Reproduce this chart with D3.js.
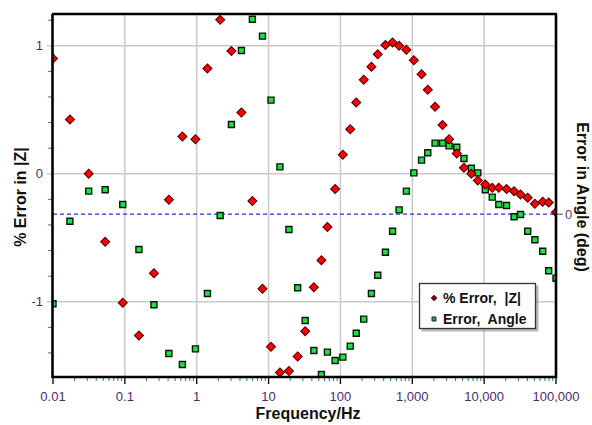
<!DOCTYPE html>
<html><head><meta charset="utf-8">
<script src="https://cdn.jsdelivr.net/npm/d3@7"></script>
<style>body{margin:0;background:#fff}svg{display:block}text{white-space:pre}</style>
</head><body>
<svg id="c" width="592" height="425"></svg>
<script>
const freq = [0.01,0.0172,0.0314,0.0532,0.0935,0.157,0.254,0.41,0.632,0.96,1.41,2.12,3.04,4.19,5.95,8.23,10.8,14.4,19.2,25.4,32.3,42.7,54.4,65.9,84.4,108,137,166,211,270,331,423,532,655,828,1052,1346,1642,2075,2637,3251,4159,5236,6637,8169,10390,12970,16000,20500,26060,32080,40380,50850,65310,79100,100000];
const zErr = [0.90,0.424,0.0,-0.531,-1.008,-1.263,-0.777,-0.203,0.291,0.270,0.823,1.203,0.958,0.479,-0.213,-0.898,-1.352,-1.552,-1.542,-1.427,-1.230,-0.886,-0.675,-0.417,-0.120,0.148,0.348,0.557,0.734,0.836,0.934,1.005,1.026,1.0,0.969,0.887,0.778,0.656,0.523,0.380,0.270,0.159,0.047,0.0,-0.052,-0.084,-0.109,-0.109,-0.120,-0.136,-0.162,-0.188,-0.234,-0.219,-0.224,-0.300];
const angleErr = [-0.700,-0.055,0.180,0.191,0.076,-0.276,-0.708,-1.088,-1.174,-1.052,-0.620,-0.010,0.701,1.279,1.523,1.391,0.891,0.370,-0.120,-0.575,-0.830,-1.065,-1.252,-1.078,-1.143,-1.117,-1.031,-0.930,-0.820,-0.620,-0.477,-0.297,-0.133,0.034,0.180,0.323,0.422,0.480,0.555,0.555,0.534,0.523,0.435,0.359,0.323,0.191,0.133,0.076,0.068,-0.020,-0.002,-0.133,-0.200,-0.289,-0.442,-0.500];
const xTicks = [0.01,0.1,1,10,100,1000,10000,100000];
const xTickLabels = ["0.01","0.1","1","10","100","1,000","10,000","100,000"];
const yTicks = [-1,0,1];
const yTickLabels = ["-1","0","1"];
const yRTicks = [0];
const yRTickLabels = ["0"];
const seriesNames = ["% Error,  |Z|","Error,  Angle"];

const L=53, R=556, T=14, B=377;
const svg = d3.select("#c");
const x = d3.scaleLog().domain([0.01,1e5]).range([L,R]);
const yL = d3.scaleLinear().domain([-1.588,1.248]).range([B,T]);
const yR = d3.scaleLinear().domain([-1.272,1.564]).range([B,T]);
const tickCol = "#4a2c72";

// grid
const grid = svg.append("g");
grid.selectAll("line.v").data(xTicks.slice(1,-1)).join("line")
  .attr("x1",d=>x(d)).attr("x2",d=>x(d)).attr("y1",T).attr("y2",B)
  .attr("stroke","#cacaca").attr("stroke-width",1.5);
grid.selectAll("line.h").data(yTicks).join("line")
  .attr("x1",L-6).attr("x2",R).attr("y1",d=>yL(d)).attr("y2",d=>yL(d))
  .attr("stroke","#cacaca").attr("stroke-width",1.5);

// dashed zero line of right axis
svg.append("line").attr("x1",L).attr("x2",R).attr("y1",yR(0)).attr("y2",yR(0))
  .attr("stroke","#2a2af0").attr("stroke-width",1.3).attr("stroke-dasharray","4,3");

// minor ticks x
const minor=[];
for(let e=-2;e<5;e++) for(let m=2;m<10;m++) minor.push(m*Math.pow(10,e));
svg.append("g").selectAll("line").data(minor).join("line")
  .attr("x1",d=>x(d)).attr("x2",d=>x(d)).attr("y1",B).attr("y2",B+4)
  .attr("stroke","#2a7d80").attr("stroke-width",1);
// major ticks x
svg.append("g").selectAll("line").data(xTicks).join("line")
  .attr("x1",d=>x(d)).attr("x2",d=>x(d)).attr("y1",B).attr("y2",B+7)
  .attr("stroke","#000").attr("stroke-width",1.3);
svg.append("g").selectAll("text").data(xTicks).join("text")
  .attr("x",d=>x(d)).attr("y",401).attr("text-anchor","middle")
  .attr("font-family","Liberation Sans, Arial, sans-serif").attr("font-size",13)
  .attr("fill",tickCol).text((d,i)=>xTickLabels[i]);

// minor ticks y left
const yMinor = d3.range(-1.4,1.3,0.2).map(v=>+v.toFixed(1)).filter(v=>Math.abs(v-Math.round(v))>0.01);
svg.append("g").selectAll("line").data(yMinor).join("line")
  .attr("x1",L-5).attr("x2",L).attr("y1",d=>yL(d)).attr("y2",d=>yL(d))
  .attr("stroke","#2a7d80").attr("stroke-width",1);
svg.append("g").selectAll("text").data(yTicks).join("text")
  .attr("x",43).attr("y",d=>yL(d)+4.5).attr("text-anchor","end")
  .attr("font-family","Liberation Sans, Arial, sans-serif").attr("font-size",13)
  .attr("fill",tickCol).text((d,i)=>yTickLabels[i]);

// right ticks
svg.append("g").selectAll("line").data(yRTicks).join("line")
  .attr("x1",R).attr("x2",R+7).attr("y1",d=>yR(d)).attr("y2",d=>yR(d))
  .attr("stroke","#555").attr("stroke-width",1);
svg.append("g").selectAll("text").data(yRTicks).join("text")
  .attr("x",R+9).attr("y",d=>yR(d)+4.5).attr("text-anchor","start")
  .attr("font-family","Liberation Sans, Arial, sans-serif").attr("font-size",13)
  .attr("fill","#4a4a6a").text((d,i)=>yRTickLabels[i]);

// points
svg.append("clipPath").attr("id","clip").append("rect")
  .attr("x",L).attr("y",T).attr("width",R-L).attr("height",B-T);
const pts = svg.append("g").attr("clip-path","url(#clip)");
const sq = d3.symbol().type(d3.symbolSquare);
pts.selectAll("path.g").data(freq.map((f,i)=>[f,angleErr[i]])).join("path")
  .attr("d",sq.size(36)())
  .attr("transform",d=>`translate(${x(d[0])},${yR(d[1])})`)
  .attr("fill","#14e83c").attr("stroke","#111").attr("stroke-width",1.4);
pts.selectAll("path.r").data(freq.map((f,i)=>[f,zErr[i]])).join("path")
  .attr("d",sq.size(40)())
  .attr("transform",d=>`translate(${x(d[0])},${yL(d[1])}) rotate(45)`)
  .attr("fill","#ff0000").attr("stroke","#5a0000").attr("stroke-width",1.1);

// frame
const fr = svg.append("g").attr("stroke","#000").attr("stroke-width",2.6);
fr.append("line").attr("x1",L-1).attr("x2",R+1).attr("y1",T).attr("y2",T);
fr.append("line").attr("x1",L-1).attr("x2",R+1).attr("y1",B).attr("y2",B);
fr.append("line").attr("x1",L-0.5).attr("x2",L-0.5).attr("y1",T).attr("y2",B+1);
fr.append("line").attr("x1",R).attr("x2",R).attr("y1",T).attr("y2",B+1);

// axis titles
const tf = "Liberation Sans, Arial, sans-serif";
svg.append("text").attr("x",308).attr("y",419).attr("text-anchor","middle")
  .attr("font-family",tf).attr("font-size",16).attr("font-weight","bold").attr("fill","#111")
  .text("Frequency/Hz");
svg.append("text").attr("transform","translate(26,197) rotate(-90)").attr("text-anchor","middle")
  .attr("font-family",tf).attr("font-size",16).attr("font-weight","bold").attr("fill","#111")
  .text("% Error in |Z|");
svg.append("text").attr("transform","translate(577,197) rotate(90)").attr("text-anchor","middle")
  .attr("font-family",tf).attr("font-size",16).attr("font-weight","bold").attr("fill","#111")
  .text("Error in Angle (deg)");

// legend
const lg = svg.append("g");
lg.append("rect").attr("x",421.5).attr("y",285.5).attr("width",117).attr("height",46).attr("fill","#888").attr("opacity",0.6);
lg.append("rect").attr("x",419.5).attr("y",283.5).attr("width",116).attr("height",45)
  .attr("fill","#fff").attr("stroke","#333").attr("stroke-width",1.3);
const ly = [298, 319];
lg.append("path").attr("d",d3.symbol().type(d3.symbolSquare).size(16)())
  .attr("transform",`translate(434,${ly[0]}) rotate(45)`).attr("fill","#7a0010").attr("stroke","#400").attr("stroke-width",0.8);
lg.append("path").attr("d",d3.symbol().type(d3.symbolSquare).size(16)())
  .attr("transform",`translate(434,${ly[1]})`).attr("fill","#1ab040").attr("stroke","#222").attr("stroke-width",1);
lg.selectAll("text").data(seriesNames).join("text")
  .attr("x",443).attr("y",(d,i)=>ly[i]+5).attr("font-family",tf).attr("font-size",14)
  .attr("font-weight","bold").attr("fill","#111").attr("xml:space","preserve").text(d=>d);
</script>
</body></html>
